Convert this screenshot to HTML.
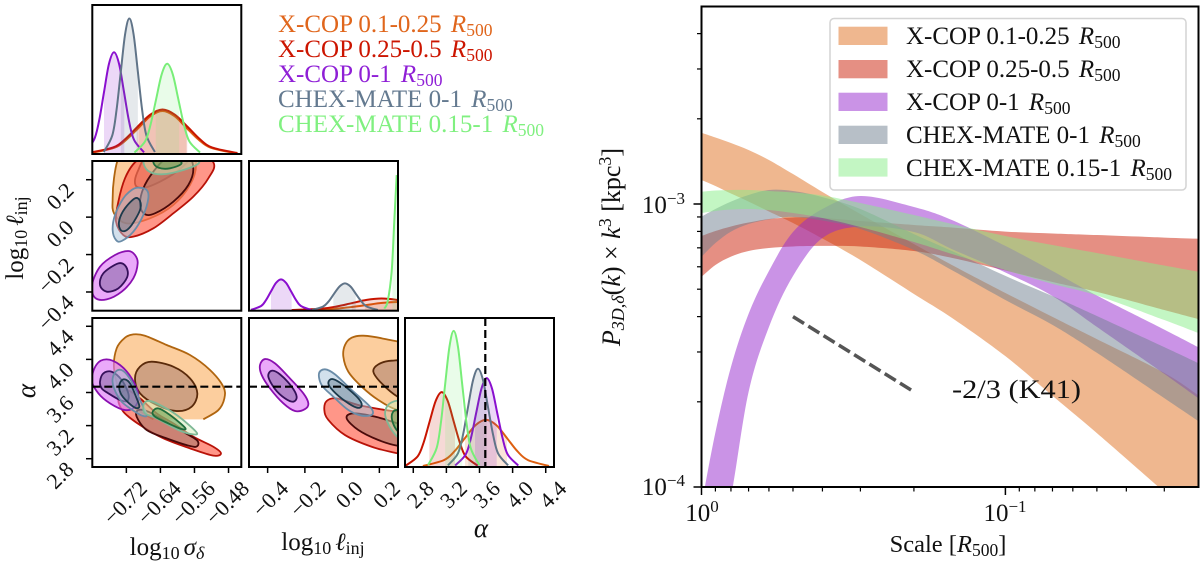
<!DOCTYPE html>
<html lang="en">
<head>
<meta charset="utf-8">
<title>Corner plot and power spectrum bands</title>
<style>
html,body{margin:0;padding:0;background:#fff;width:1200px;height:567px;overflow:hidden}
svg{display:block}
text{font-family:"Liberation Serif","DejaVu Serif",serif;fill:#111}
</style>
</head>
<body>
<svg id="figure" xmlns="http://www.w3.org/2000/svg" width="1200" height="567" viewBox="0 0 1200 567">
<defs>
<clipPath id="clip-p11"><rect x="92.3" y="5" width="149" height="149"/></clipPath>
<clipPath id="clip-p21"><rect x="92.3" y="161" width="149" height="149.7"/></clipPath>
<clipPath id="clip-p22"><rect x="249" y="161" width="149" height="149.7"/></clipPath>
<clipPath id="clip-p31"><rect x="92.3" y="318" width="149" height="149"/></clipPath>
<clipPath id="clip-p32"><rect x="249" y="318" width="149" height="149"/></clipPath>
<clipPath id="clip-p33"><rect x="405" y="318" width="149" height="149"/></clipPath>
<clipPath id="clip-spec"><rect x="701.5" y="7" width="497" height="480"/></clipPath>
</defs>
<g id="marks"></g>

<g font-size="25">
<text x="278" y="32" style="fill:#e0661c">X-COP 0.1-0.25 <tspan font-style="italic" dx="3">R</tspan><tspan font-size="17.5" dy="4">500</tspan></text>
<text x="278" y="57" style="fill:#cc1500">X-COP 0.25-0.5 <tspan font-style="italic" dx="3">R</tspan><tspan font-size="17.5" dy="4">500</tspan></text>
<text x="278" y="82" style="fill:#8f1fd6">X-COP 0-1 <tspan font-style="italic" dx="3">R</tspan><tspan font-size="17.5" dy="4">500</tspan></text>
<text x="278" y="107" style="fill:#647a90">CHEX-MATE 0-1 <tspan font-style="italic" dx="3">R</tspan><tspan font-size="17.5" dy="4">500</tspan></text>
<text x="278" y="132" style="fill:#80f080">CHEX-MATE 0.15-1 <tspan font-style="italic" dx="3">R</tspan><tspan font-size="17.5" dy="4">500</tspan></text>
</g>

<text transform="translate(23,238) rotate(-90)" text-anchor="middle" font-size="25">log<tspan font-size="18" dy="4">10</tspan><tspan dy="-4" dx="4" font-style="italic">ℓ</tspan><tspan font-size="18" dy="4">inj</tspan></text>
<text transform="translate(35,391) rotate(-90)" text-anchor="middle" font-size="27" font-style="italic">α</text>
<text x="167" y="555" text-anchor="middle" font-size="25">log<tspan font-size="18" dy="4">10</tspan><tspan dy="-4" dx="4" font-style="italic">σ</tspan><tspan font-size="18" dy="4" font-style="italic">δ</tspan></text>
<text x="323" y="550" text-anchor="middle" font-size="25">log<tspan font-size="18" dy="4">10</tspan><tspan dy="-4" dx="4" font-style="italic">ℓ</tspan><tspan font-size="18" dy="4">inj</tspan></text>
<text x="481" y="537" text-anchor="middle" font-size="27" font-style="italic">α</text>

<g>
<rect x="830" y="18.5" width="356" height="171.5" rx="4" fill="#fff" fill-opacity="0.85" stroke="#d4d4d4" stroke-width="1.5"/>
<rect x="838.5" y="26.7" width="49" height="18.3" fill="#e06f1f" fill-opacity="0.5"/>
<rect x="838.5" y="60" width="49" height="18.3" fill="#cc1f08" fill-opacity="0.5"/>
<rect x="838.5" y="92.7" width="49" height="18.3" fill="#9628cd" fill-opacity="0.5"/>
<rect x="838.5" y="125.7" width="49" height="18.3" fill="#708090" fill-opacity="0.5"/>
<rect x="838.5" y="158.3" width="49" height="18.3" fill="#88ee88" fill-opacity="0.5"/>
<g font-size="25">
<text x="906" y="44">X-COP 0.1-0.25 <tspan font-style="italic" dx="3">R</tspan><tspan font-size="17.5" dy="4">500</tspan></text>
<text x="906" y="77">X-COP 0.25-0.5 <tspan font-style="italic" dx="3">R</tspan><tspan font-size="17.5" dy="4">500</tspan></text>
<text x="906" y="110">X-COP 0-1 <tspan font-style="italic" dx="3">R</tspan><tspan font-size="17.5" dy="4">500</tspan></text>
<text x="906" y="143">CHEX-MATE 0-1 <tspan font-style="italic" dx="3">R</tspan><tspan font-size="17.5" dy="4">500</tspan></text>
<text x="906" y="176">CHEX-MATE 0.15-1 <tspan font-style="italic" dx="3">R</tspan><tspan font-size="17.5" dy="4">500</tspan></text>
</g>
</g>

<text x="952" y="398" font-size="26" textLength="129" lengthAdjust="spacingAndGlyphs">-2/3 (K41)</text>
<text transform="translate(620,247) rotate(-90)" text-anchor="middle" font-size="26"><tspan font-style="italic">P</tspan><tspan font-size="18" dy="4" font-style="italic">3D,δ</tspan><tspan dy="-4">(</tspan><tspan font-style="italic">k</tspan>) × <tspan font-style="italic">k</tspan><tspan font-size="18" dy="-9">3</tspan><tspan dy="9"> [kpc</tspan><tspan font-size="18" dy="-9">3</tspan><tspan dy="9">]</tspan></text>
<text x="948" y="552" text-anchor="middle" font-size="24.5">Scale [<tspan font-style="italic">R</tspan><tspan font-size="17.5" dy="4">500</tspan><tspan dy="-4">]</tspan></text>
<text x="702" y="521" text-anchor="middle" font-size="25">10<tspan font-size="17" dy="-9">0</tspan></text>
<text x="1005" y="521" text-anchor="middle" font-size="25">10<tspan font-size="17" dy="-9">−1</tspan></text>
<text x="685" y="213" text-anchor="end" font-size="25">10<tspan font-size="17" dy="-9">−3</tspan></text>
<text x="685" y="495" text-anchor="end" font-size="25">10<tspan font-size="17" dy="-9">−4</tspan></text>
</svg>

<script>
/* ---------- spectrum data (values in units of 1e-3 kpc^3) ---------- */
const scales = [1,0.9,0.8,0.7,0.6,0.5,0.4,0.3,0.2,0.15,0.1,0.07,0.05,0.03,0.0232];
const orangeUpper = [1.786,1.718,1.643,1.552,1.431,1.276,1.103,0.922,0.722,0.609,0.485,0.399,0.333,0.253,0.211];
const orangeLower = [1.216,1.158,1.089,1.020,0.941,0.857,0.755,0.634,0.481,0.396,0.290,0.210,0.155,0.0960,0.0752];
const redUpper = [0.771,0.803,0.833,0.860,0.885,0.897,0.892,0.871,0.843,0.826,0.799,0.787,0.777,0.761,0.754];
const redLower = [0.553,0.609,0.652,0.682,0.699,0.708,0.711,0.708,0.682,0.645,0.582,0.530,0.489,0.422,0.392];
const purpleUpper = [0.0864,0.156,0.2655,0.409,0.580,0.796,0.960,1.067,0.976,0.878,0.711,0.580,0.475,0.360,0.312];
const purpleLower = [0.0208,0.0433,0.0922,0.2167,0.3676,0.5566,0.758,0.833,0.796,0.693,0.573,0.473,0.368,0.251,0.206];
const grayUpper = [0.902,0.960,1.020,1.076,1.121,1.112,1.058,0.960,0.783,0.682,0.557,0.473,0.402,0.312,0.274];
const grayLower = [0.651,0.728,0.799,0.850,0.882,0.900,0.874,0.816,0.688,0.584,0.458,0.374,0.298,0.206,0.171];
const greenUpper = [1.105,1.116,1.121,1.121,1.112,1.098,1.072,1.008,0.914,0.850,0.771,0.716,0.671,0.606,0.576];
const greenLower = [0.929,0.945,0.956,0.960,0.952,0.929,0.892,0.829,0.734,0.666,0.584,0.522,0.475,0.389,0.350];
const k41Scales = [0.5,0.2];
const k41Values = [0.4,0.217];
const specMajorX = [1,0.1];
const specMinorX = [0.9,0.8,0.7,0.6,0.5,0.4,0.3,0.2,0.09,0.08,0.07,0.06,0.05,0.04,0.03];
const specMajorY = [1,0.1];
const specMinorY = [4,3,2,0.9,0.8,0.7,0.6,0.5,0.4,0.3,0.2];

/* ---------- corner ticks ---------- */
const sigmaTicks = [-0.72,-0.64,-0.56,-0.48];
const sigmaTickLabels = ["−0.72","−0.64","−0.56","−0.48"];
const ellTicks = [-0.4,-0.2,0.0,0.2];
const ellTickLabels = ["−0.4","−0.2","0.0","0.2"];
const alphaTicks = [2.8,3.2,3.6,4.0,4.4];
const alphaTickLabels = ["2.8","3.2","3.6","4.0","4.4"];
const alphaTruth = 3.67;

/* ---------- 1D posteriors: [value, density as share of panel height] ---------- */
const sigmaOrange = [[-.804,.0032],[-.748,.039],[-.720,.093],[-.691,.174],[-.663,.253],[-.635,.287],[-.607,.253],[-.579,.174],[-.550,.093],[-.522,.039],[-.466,.0032]];
const sigmaRed = [[-.811,.0033],[-.752,.040],[-.723,.096],[-.694,.180],[-.664,.262],[-.635,.297],[-.606,.262],[-.576,.180],[-.547,.096],[-.518,.040],[-.459,.0033]];
const sigmaPurple = [[-.8195,.0076],[-.796,.0925],[-.784,.222],[-.7725,.415],[-.761,.604],[-.749,.684],[-.737,.604],[-.7255,.415],[-.714,.222],[-.702,.0925],[-.6785,.0076]];
const sigmaGray = [[-.773,.010],[-.753,.123],[-.743,.296],[-.733,.553],[-.723,.805],[-.713,.912],[-.703,.805],[-.693,.553],[-.683,.296],[-.673,.123],[-.653,.010]];
const sigmaGreen = [[-.701,.0067],[-.676,.082],[-.663,.197],[-.650,.368],[-.637,.535],[-.624,.606],[-.611,.535],[-.598,.368],[-.585,.197],[-.572,.082],[-.547,.0067]];
const ellOrange = [[-.254,.0006],[-.066,.0074],[.028,.018],[.122,.033],[.216,.049],[.31,.055],[.404,.049]];
const ellRed = [[-.271,.0009],[-.11,.0106],[-.03,.025],[.051,.047],[.132,.069],[.212,.078],[.293,.069],[.373,.047]];
const ellPurple = [[-.489,.0023],[-.435,.028],[-.409,.067],[-.382,.126],[-.355,.183],[-.328,.207],[-.301,.183],[-.274,.126],[-.247,.067],[-.221,.028],[-.167,.0023]];
const ellGray = [[-.162,.002],[-.103,.024],[-.073,.058],[-.044,.109],[-.014,.159],[.015,.18],[.045,.159],[.074,.109],[.104,.058],[.133,.024],[.192,.002]];
const ellGreen = [[.2265,.011],[.2447,.06],[.266,.26],[.28,.595],[.293,.906]];
const alphaOrange = [[2.916,.0035],[3.17,.043],[3.297,.102],[3.424,.191],[3.551,.278],[3.678,.315],[3.805,.278],[3.932,.191],[4.059,.102],[4.186,.043],[4.44,.0035]];
const alphaRed = [[2.708,.0056],[2.853,.068],[2.926,.163],[2.998,.304],[3.071,.442],[3.143,.501],[3.216,.442],[3.288,.304],[3.361,.163],[3.433,.068],[3.578,.0056]];
const alphaPurple = [[3.306,.0066],[3.433,.081],[3.497,.193],[3.56,.361],[3.624,.525],[3.687,.595],[3.751,.525],[3.814,.361],[3.878,.193],[3.941,.081],[4.068,.0066]];
const alphaGray = [[3.219,.0073],[3.34,.089],[3.401,.214],[3.461,.399],[3.522,.581],[3.582,.658],[3.643,.581],[3.703,.399],[3.764,.214],[3.824,.089],[3.945,.0073]];
const alphaGreen = [[2.979,.010],[3.082,.124],[3.134,.296],[3.185,.554],[3.237,.806],[3.288,.913],[3.34,.806],[3.391,.554],[3.443,.296],[3.494,.124],[3.597,.010]];

/* credible-interval limits shaded under each posterior */
const sigmaShade = {orange:[-.691,-.579],red:[-.696,-.577],purple:[-.7725,-.7248],gray:[-.733,-.693],green:[-.651,-.596]};
const ellShade = {orange:[.122,.3],red:[.051,.3],purple:[-.382,-.271],gray:[-.047,.073],green:[.27,.3]};
const alphaShade = {orange:[3.424,3.932],red:[2.994,3.304],purple:[3.546,3.808],gray:[3.465,3.687],green:[3.185,3.391]};

/* ---------- 2D contours: sigma vs ell ---------- */
const seOrangeOuter = [[-.7490,.0203],[-.7522,.1005],[-.7490,.2075],[-.7388,.3144],[-.7114,.4035],[-.6331,.4391],[-.5705,.3678],[-.5564,.2787],[-.5705,.1718],[-.6097,.0649],[-.6644,-.0064],[-.7193,-.0331]];
const seOrangeInner = [[-.6997,.1986],[-.6919,.2520],[-.6762,.3144],[-.6331,.3678],[-.5862,.3500],[-.5744,.3055],[-.6018,.2431],[-.6410,.1896],[-.6762,.1576],[-.6958,.1629]];
const seRedOuter = [[-.5157,.2930],[-.5274,.2075],[-.5627,.1094],[-.6097,.0203],[-.6566,-.0598],[-.7036,-.1044],[-.7271,-.0955],[-.7443,-.0242],[-.7388,.0827],[-.7232,.2075],[-.6997,.2930],[-.6566,.3589],[-.5705,.3768]];
const seRedInner = [[-.5627,.2609],[-.5744,.1718],[-.6097,.0827],[-.6527,.0203],[-.6762,.0150],[-.6879,.0649],[-.6801,.1540],[-.6566,.2431],[-.6253,.3144],[-.5783,.3411]];
const sePurpleOuter = [[-.7154,-.1810],[-.6997,-.2024],[-.6934,-.2470],[-.7036,-.3271],[-.7310,-.3984],[-.7662,-.4394],[-.7937,-.4305],[-.8007,-.3628],[-.7819,-.2648],[-.7467,-.2024]];
const sePurpleInner = [[-.7388,-.2470],[-.7208,-.2648],[-.7177,-.3182],[-.7388,-.3806],[-.7662,-.3984],[-.7819,-.3628],[-.7741,-.3004]];
const seGrayOuter = [[-.6919,.1576],[-.6723,.1451],[-.6684,.1005],[-.6801,.0114],[-.7036,-.0777],[-.7310,-.1275],[-.7443,-.1222],[-.7522,-.0688],[-.7467,.0114],[-.7271,.1005],[-.7075,.1451]];
const seGrayInner = [[-.6997,.1005],[-.6879,.0863],[-.6879,.0382],[-.7075,-.0420],[-.7232,-.0741],[-.7349,-.0634],[-.7365,-.0153],[-.7232,.0471]];
const seGreenOuter = [[-.6801,.2966],[-.6684,.2467],[-.6371,.2288],[-.5862,.2520],[-.5486,.2930],[-.5705,.3500],[-.6331,.3678],[-.6723,.3500]];
const seGreenInner = [[-.6566,.2930],[-.6449,.2645],[-.6175,.2609],[-.5901,.2894],[-.6175,.3322],[-.6488,.3269]];

/* ---------- 2D contours: sigma vs alpha ---------- */
const saOrangeOuter = [[-.6566,3.2755],[-.7036,3.429],[-.7349,3.610],[-.7490,3.892],[-.7428,4.133],[-.7232,4.262],[-.7036,4.302],[-.6762,4.286],[-.6253,4.174],[-.5705,4.053],[-.5235,3.872],[-.4922,3.670],[-.4898,3.529],[-.5039,3.388],[-.5392,3.276]];
const saOrangeInner = [[-.6997,3.771],[-.6879,3.912],[-.6605,3.972],[-.6097,3.912],[-.5705,3.771],[-.5533,3.590],[-.5666,3.429],[-.6018,3.376],[-.6488,3.449],[-.6879,3.590]];
const saRedOuter = [[-.7388,3.529],[-.7271,3.368],[-.6879,3.207],[-.6331,3.046],[-.5705,2.925],[-.5157,2.837],[-.4977,2.865],[-.5157,2.945],[-.5627,3.066],[-.6097,3.227],[-.6488,3.348],[-.6879,3.529],[-.7193,3.630]];
const saRedInner = [[-.6958,3.308],[-.6723,3.147],[-.6253,3.046],[-.5705,2.953],[-.5533,2.953],[-.5548,3.026],[-.5940,3.147],[-.6331,3.268],[-.6684,3.368],[-.6919,3.388]];
const saPurpleOuter = [[-.8015,3.751],[-.7897,3.940],[-.7662,4.000],[-.7349,3.932],[-.7075,3.771],[-.6919,3.570],[-.6997,3.429],[-.7232,3.388],[-.7584,3.469],[-.7858,3.590]];
const saPurpleInner = [[-.7819,3.731],[-.7741,3.831],[-.7545,3.851],[-.7310,3.751],[-.7154,3.590],[-.7177,3.497],[-.7349,3.509],[-.7623,3.590],[-.7780,3.650]];
const saGrayOuter = [[-.7522,3.771],[-.7428,3.863],[-.7271,3.859],[-.7075,3.731],[-.6879,3.509],[-.6723,3.336],[-.6801,3.316],[-.6997,3.368],[-.7310,3.489],[-.7490,3.650]];
const saGrayInner = [[-.7365,3.690],[-.7271,3.759],[-.7114,3.710],[-.6958,3.529],[-.6895,3.429],[-.6997,3.417],[-.7193,3.497],[-.7334,3.590]];
const saGreenOuter = [[-.6801,3.441],[-.6707,3.497],[-.6488,3.469],[-.6018,3.328],[-.5564,3.127],[-.5627,3.094],[-.5979,3.147],[-.6488,3.288],[-.6762,3.348]];
const saGreenInner = [[-.6582,3.368],[-.6449,3.408],[-.6175,3.328],[-.5822,3.175],[-.5901,3.159],[-.6214,3.227],[-.6527,3.308]];

/* ---------- 2D contours: ell vs alpha ---------- */
const eaOrangeOuter = [[.0065,4.033],[.0155,4.174],[.0513,4.262],[.1140,4.286],[.2303,4.246],[.4093,4.133],[.5525,3.811],[.4451,3.328],[.2983,3.388],[.1945,3.509],[.1050,3.670],[.0334,3.851]];
const eaOrangeInner = [[.1677,3.851],[.1945,3.940],[.2661,3.984],[.4093,3.972],[.4809,3.731],[.4093,3.449],[.2983,3.549],[.2124,3.710]];
const eaRedOuter = [[-.0955,3.388],[-.0829,3.497],[-.0293,3.529],[.0871,3.449],[.2303,3.388],[.3735,3.328],[.4809,3.086],[.3735,2.845],[.2983,2.865],[.1587,2.945],[.0155,3.086],[-.0740,3.268]];
const eaRedInner = [[.0245,3.288],[.0603,3.348],[.1766,3.308],[.2983,3.227],[.4451,3.127],[.4093,2.945],[.2983,2.957],[.1945,3.026],[.0871,3.147]];
const eaPurpleOuter = [[-.4410,3.932],[-.4141,4.004],[-.3604,3.952],[-.2888,3.791],[-.2083,3.590],[-.1814,3.469],[-.1993,3.400],[-.2530,3.376],[-.3157,3.469],[-.3873,3.650],[-.4320,3.811]];
const eaPurpleInner = [[-.3962,3.791],[-.3783,3.863],[-.3336,3.819],[-.2709,3.670],[-.2441,3.549],[-.2620,3.489],[-.3067,3.529],[-.3604,3.642]];
const eaGrayOuter = [[-.1241,3.831],[-.0919,3.880],[-.0382,3.819],[.0513,3.630],[.1498,3.429],[.1623,3.336],[.1050,3.320],[.0334,3.388],[-.0472,3.549],[-.1098,3.690]];
const eaGrayInner = [[-.0740,3.710],[-.0525,3.763],[.0066,3.690],[.0871,3.529],[.1050,3.441],[.0782,3.417],[.0155,3.497],[-.0472,3.618]];
const eaGreenOuter = [[.2303,3.348],[.2625,3.477],[.3377,3.469],[.4630,3.167],[.4451,2.885],[.3377,2.986],[.2661,3.147]];
const eaGreenInner = [[.2661,3.308],[.2930,3.388],[.3735,3.288],[.4272,3.086],[.3646,3.046],[.2930,3.147]];

/* ---------- axis functions ---------- */
const sigmaX = v => 92.3 + (v + 0.8) / 0.35 * 149;
const ellX = v => 249 + (v + 0.5) / 0.8 * 149;
const ellY = v => 310.7 - (v + 0.5) / 0.8 * 149.7;
const alphaX = v => 405 + (v - 2.7) / 1.8 * 149;
const alphaY = v => 467 - (v - 2.7) / 1.8 * 149;
const specX = s => 701.5 - 303.9 * Math.log10(s);
const specY = v => Math.min(560, 204 - 283 * Math.log10(v));

/* ---------- helpers ---------- */
const NS = 'http://www.w3.org/2000/svg';
const marks = document.getElementById('marks');
function make(tag, parent, props) {
  const el = document.createElementNS(NS, tag);
  Object.keys(props).forEach(k => el.setAttribute(k, props[k]));
  parent.appendChild(el);
  return el;
}
const fmt = n => n.toFixed(2);
function splineOpen(p) {
  let d = '';
  for (let i = 0; i < p.length - 1; i++) {
    const a = p[Math.max(i - 1, 0)], b = p[i], c = p[i + 1], e = p[Math.min(i + 2, p.length - 1)];
    d += 'C' + fmt(b[0] + (c[0] - a[0]) / 6) + ' ' + fmt(b[1] + (c[1] - a[1]) / 6) + ' ' +
         fmt(c[0] - (e[0] - b[0]) / 6) + ' ' + fmt(c[1] - (e[1] - b[1]) / 6) + ' ' + fmt(c[0]) + ' ' + fmt(c[1]);
  }
  return d;
}
function splineClosed(p) {
  const n = p.length;
  let d = 'M' + fmt(p[0][0]) + ' ' + fmt(p[0][1]);
  for (let i = 0; i < n; i++) {
    const a = p[(i - 1 + n) % n], b = p[i], c = p[(i + 1) % n], e = p[(i + 2) % n];
    d += 'C' + fmt(b[0] + (c[0] - a[0]) / 6) + ' ' + fmt(b[1] + (c[1] - a[1]) / 6) + ' ' +
         fmt(c[0] - (e[0] - b[0]) / 6) + ' ' + fmt(c[1] - (e[1] - b[1]) / 6) + ' ' + fmt(c[0]) + ' ' + fmt(c[1]);
  }
  return d + 'Z';
}
const panelGroup = (name, clip) => {
  const g = make('g', marks, {'clip-path': 'url(#' + clip + ')'});
  
  
  return g;
};

/* ---------- series styles ---------- */
const lineColor = {orange:'#dd5f10', red:'#c81400', purple:'#8a0fcf', gray:'#607488', green:'#78ee78'};
const bandColor = {orange:'#e06f1f', red:'#cc1f08', purple:'#9628cd', gray:'#708090', green:'#88ee88'};
const contourStyle = {
  orange:{oFill:'#f9a64e',oOp:.55,oEdge:'#b0650f',iFill:'#b0836f',iOp:.6,iEdge:'#5a2a0a'},
  red:{oFill:'#ff6a55',oOp:.7,oEdge:'#b81208',iFill:'#a87468',iOp:.6,iEdge:'#4a0a0a'},
  purple:{oFill:'#df7bf7',oOp:.65,oEdge:'#8a0fb0',iFill:'#8a6aa8',iOp:.6,iEdge:'#35105a'},
  gray:{oFill:'#a5c2da',oOp:.5,oEdge:'#6a8ca8',iFill:'#3f5a70',iOp:.35,iEdge:'#1c3a4c'},
  green:{oFill:'#cfeeb8',oOp:.5,oEdge:'#7eb896',iFill:'#5a9a4a',iOp:.5,iEdge:'#1f6d3c'}
};

/* ---------- 1D panels ---------- */
let shadeId = 0;
function drawCurve(parent, key, pts, fx, baseY, height, shade, panel) {
  const p = pts.map(q => [fx(q[0]), baseY - q[1] * height]);
  const top = 'M' + fmt(p[0][0]) + ' ' + fmt(p[0][1]) + splineOpen(p);
  const area = top + 'L' + fmt(p[p.length - 1][0]) + ' ' + baseY + 'L' + fmt(p[0][0]) + ' ' + baseY + 'Z';
  const id = 'shade-' + (shadeId++);
  const defs = document.querySelector('defs');
  const cp = make('clipPath', defs, {id: id});
  make('rect', cp, {x: fx(shade[0]), y: baseY - height - 5, width: fx(shade[1]) - fx(shade[0]), height: height + 5});
  const a = make('path', parent, {d: area, fill: lineColor[key], 'fill-opacity': .16, 'clip-path': 'url(#' + id + ')'});
  
  
  const l = make('path', parent, {d: top, fill: 'none', stroke: lineColor[key], 'stroke-width': 2});
  
  
}
const p11 = panelGroup('panel-sigma-posterior', 'clip-p11');
[['orange',sigmaOrange],['red',sigmaRed],['purple',sigmaPurple],['gray',sigmaGray],['green',sigmaGreen]]
  .forEach(s => drawCurve(p11, s[0], s[1], sigmaX, 153.5, 148, sigmaShade[s[0]], 'sigma'));
const p22 = panelGroup('panel-ell-posterior', 'clip-p22');
[['orange',ellOrange],['red',ellRed],['purple',ellPurple],['gray',ellGray],['green',ellGreen]]
  .forEach(s => drawCurve(p22, s[0], s[1], ellX, 310.2, 149.2, ellShade[s[0]], 'ell'));
const p33 = panelGroup('panel-alpha-posterior', 'clip-p33');
[['orange',alphaOrange],['red',alphaRed],['purple',alphaPurple],['gray',alphaGray],['green',alphaGreen]]
  .forEach(s => drawCurve(p33, s[0], s[1], alphaX, 466.5, 148.5, alphaShade[s[0]], 'alpha'));

/* ---------- 2D panels ---------- */
function drawContour(parent, key, level, pts, fx, fy, panel, open) {
  const st = contourStyle[key];
  const p = pts.map(q => [fx(q[0]), fy(q[1])]);
  const d = open ? 'M' + fmt(p[0][0]) + ' ' + fmt(p[0][1]) + splineOpen(p) : splineClosed(p);
  const inner = level === 'inner';
  if (open) {
    const f = make('path', parent, {d: d + 'Z', fill: st.oFill, 'fill-opacity': st.oOp});
    
    
  }
  const c = make('path', parent, {
    d: d,
    fill: open ? 'none' : (inner ? st.iFill : st.oFill),
    'fill-opacity': inner ? st.iOp : st.oOp,
    stroke: inner ? st.iEdge : st.oEdge,
    'stroke-width': 1.8,
    'stroke-linejoin': 'round'
  });
  
  
}
const p21 = panelGroup('panel-sigma-ell', 'clip-p21');
[['orange','outer',seOrangeOuter],['orange','inner',seOrangeInner],['red','outer',seRedOuter],['red','inner',seRedInner],
 ['purple','outer',sePurpleOuter],['purple','inner',sePurpleInner],['gray','outer',seGrayOuter],['gray','inner',seGrayInner],
 ['green','outer',seGreenOuter],['green','inner',seGreenInner]]
  .forEach(s => drawContour(p21, s[0], s[1], s[2], sigmaX, ellY, 'sigma-ell', false));
const p31 = panelGroup('panel-sigma-alpha', 'clip-p31');
[['orange','outer',saOrangeOuter,true],['orange','inner',saOrangeInner],['red','outer',saRedOuter],['red','inner',saRedInner],
 ['purple','outer',saPurpleOuter],['purple','inner',saPurpleInner],['gray','outer',saGrayOuter],['gray','inner',saGrayInner],
 ['green','outer',saGreenOuter],['green','inner',saGreenInner]]
  .forEach(s => drawContour(p31, s[0], s[1], s[2], sigmaX, alphaY, 'sigma-alpha', !!s[3]));
const p32 = panelGroup('panel-ell-alpha', 'clip-p32');
[['orange','outer',eaOrangeOuter],['orange','inner',eaOrangeInner],['red','outer',eaRedOuter],['red','inner',eaRedInner],
 ['purple','outer',eaPurpleOuter],['purple','inner',eaPurpleInner],['gray','outer',eaGrayOuter],['gray','inner',eaGrayInner],
 ['green','outer',eaGreenOuter],['green','inner',eaGreenInner]]
  .forEach(s => drawContour(p32, s[0], s[1], s[2], ellX, alphaY, 'ell-alpha', false));

/* ---------- truth lines ---------- */
const dashStyle = {stroke: '#000', 'stroke-width': 2.2, 'stroke-dasharray': '8 4', fill: 'none'};
const truthA = make('line', p31, Object.assign({x1: 92.3, x2: 241.3, y1: alphaY(alphaTruth), y2: alphaY(alphaTruth)}, dashStyle));


const truthB = make('line', p32, Object.assign({x1: 249, x2: 398, y1: alphaY(alphaTruth), y2: alphaY(alphaTruth)}, dashStyle));


const truthC = make('line', p33, Object.assign({x1: alphaX(alphaTruth), x2: alphaX(alphaTruth), y1: 318, y2: 467}, dashStyle));



/* ---------- frames ---------- */
const frames = [[92.3,5,149,149,'sigma'],[92.3,161,149,149.7,'sigma-ell'],[249,161,149,149.7,'ell'],
                [92.3,318,149,149,'sigma-alpha'],[249,318,149,149,'ell-alpha'],[405,318,149,149,'alpha']];
frames.forEach(f => {
  const r = make('rect', marks, {x: f[0], y: f[1], width: f[2], height: f[3], fill: 'none', stroke: '#000', 'stroke-width': 2});
  
  
});

/* ---------- corner ticks ---------- */
function tick(x1, y1, x2, y2, w, name) {
  const t = make('line', marks, {x1: x1, y1: y1, x2: x2, y2: y2, stroke: '#000', 'stroke-width': w});
  
  
}
function rotLabel(ax, ay, str, name) {
  const t = make('text', marks, {transform: 'translate(' + ax + ',' + ay + ') rotate(-45)', 'text-anchor': 'end', 'font-size': 22});
  t.textContent = str;
  
  
}
ellTicks.forEach((v, i) => {
  tick(86, ellY(v), 92.3, ellY(v), 1.5, 'y-tick-ell');
  rotLabel(75, ellY(v) + 12, ellTickLabels[i], 'y-tick-label-ell');
});
alphaTicks.forEach((v, i) => {
  tick(86, alphaY(v), 92.3, alphaY(v), 1.5, 'y-tick-alpha');
  rotLabel(75, alphaY(v) + 12, alphaTickLabels[i], 'y-tick-label-alpha');
});
sigmaTicks.forEach((v, i) => {
  tick(sigmaX(v), 467, sigmaX(v), 473, 1.5, 'x-tick-sigma');
  rotLabel(sigmaX(v) + 22, 490, sigmaTickLabels[i], 'x-tick-label-sigma');
});
ellTicks.forEach((v, i) => {
  tick(ellX(v), 467, ellX(v), 473, 1.5, 'x-tick-ell');
  rotLabel(ellX(v) + 22, 490, ellTickLabels[i], 'x-tick-label-ell');
});
alphaTicks.forEach((v, i) => {
  tick(alphaX(v), 467, alphaX(v), 473, 1.5, 'x-tick-alpha');
  rotLabel(alphaX(v) + 22, 490, alphaTickLabels[i], 'x-tick-label-alpha');
});

/* ---------- spectrum bands ---------- */
const spec = panelGroup('spectrum-plot-area', 'clip-spec');
function drawBand(key, upper, lower) {
  const up = scales.map((s, i) => [specX(s), specY(upper[i])]);
  const lo = scales.map((s, i) => [specX(s), specY(lower[i])]).reverse();
  const d = 'M' + fmt(up[0][0]) + ' ' + fmt(up[0][1]) + splineOpen(up) +
            'L' + fmt(lo[0][0]) + ' ' + fmt(lo[0][1]) + splineOpen(lo) + 'Z';
  const b = make('path', spec, {d: d, fill: bandColor[key], 'fill-opacity': .5});
  
  
}
drawBand('orange', orangeUpper, orangeLower);
drawBand('red', redUpper, redLower);
drawBand('purple', purpleUpper, purpleLower);
drawBand('gray', grayUpper, grayLower);
drawBand('green', greenUpper, greenLower);

const k41 = make('line', spec, {
  x1: specX(k41Scales[0]), y1: specY(k41Values[0]), x2: specX(k41Scales[1]), y2: specY(k41Values[1]),
  stroke: '#555', 'stroke-width': 3.5, 'stroke-dasharray': '13 5'
});



const specFrame = make('rect', marks, {x: 701.5, y: 6.5, width: 497, height: 480.5, fill: 'none', stroke: '#000', 'stroke-width': 2});


specMajorX.forEach(s => tick(specX(s), 487, specX(s), 495, 1.5, 'spectrum-x-major-tick'));
specMinorX.forEach(s => tick(specX(s), 487, specX(s), 491.5, 1.2, 'spectrum-x-minor-tick'));
specMajorY.forEach(v => tick(693.5, specY(v), 701.5, specY(v), 1.5, 'spectrum-y-major-tick'));
specMinorY.forEach(v => tick(697, specY(v), 701.5, specY(v), 1.2, 'spectrum-y-minor-tick'));
</script>
</body>
</html>
